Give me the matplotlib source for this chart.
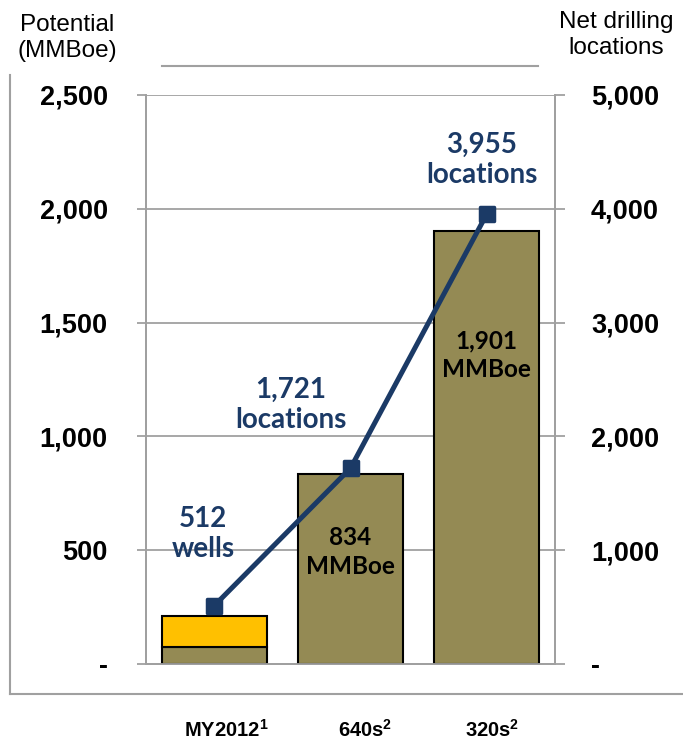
import numpy as np
import matplotlib.pyplot as plt
from matplotlib.lines import Line2D
from matplotlib.markers import MarkerStyle

plt.rcParams["mathtext.fontset"] = "custom"
plt.rcParams["mathtext.bf"] = "Liberation Sans:bold"
plt.rcParams["mathtext.rm"] = "Liberation Sans:bold"

# data
categories = ["MY2012", "640s", "320s"]
cat_notes = ["1", "2", "2"]
potential = [None, 834, 1901]          # MMBoe, labelled bars
my2012_base = 75                       # olive part of the MY2012 stack
my2012_top = 136                       # yellow part of the MY2012 stack
locations = [512, 1721, 3955]
loc_words = ["wells", "locations", "locations"]

olive = "#948A54"
gold = "#FFC000"
navy = "#1B3A66"
grey = "#A0A0A0"
arial = "Liberation Sans"
calibri = "Lato"

fig = plt.figure(figsize=(6.83, 7.41), dpi=100)
ax = fig.add_axes([0.2138, 0.1039, 0.5988, 0.7679])
ax2 = ax.twinx()

x = np.arange(len(categories))
w = 0.77

# bars
ax.bar(x[0], my2012_base, w, color=olive, edgecolor="black", linewidth=1.5, zorder=3)
ax.bar(x[0], my2012_top, w, bottom=my2012_base, color=gold, edgecolor="black",
       linewidth=1.5, zorder=3)
ax.bar(x[1:], potential[1:], w, color=olive, edgecolor="black", linewidth=1.5, zorder=3)

ax.set_xlim(-0.5, 2.5)
ax.set_ylim(0, 2500)
ax.set_yticks(np.arange(0, 2501, 500))
ax.set_yticklabels(["-"] + [f"{v:,}" for v in range(500, 2501, 500)])
ax.set_xticks([])
for v in range(500, 2501, 500):
    ax.axhline(v, color=grey, linewidth=1.3, zorder=1)

ax2.set_ylim(0, 5000)
ax2.set_yticks(np.arange(0, 5001, 1000))
ax2.set_yticklabels(["-"] + [f"{v:,}" for v in range(1000, 5001, 1000)])

for a in (ax, ax2):
    a.spines["top"].set_visible(False)
    for s in ("left", "right", "bottom"):
        a.spines[s].set_color(grey)
        a.spines[s].set_linewidth(1.3)
    for lab in a.get_yticklabels():
        lab.set_fontfamily(arial)
        lab.set_fontweight("bold")
        lab.set_fontsize(19.5)
ax.tick_params(axis="y", length=6.5, width=1.3, color=grey, pad=21)
ax2.tick_params(axis="y", length=7, width=1.3, color=grey, pad=19)

# locations line
ms = MarkerStyle("s", joinstyle="round")
ax2.plot(x, locations, color=navy, linewidth=3.6, marker=ms, markersize=10,
         markeredgewidth=2.5, markeredgecolor=navy, solid_capstyle="round", zorder=5)

# line labels
loc_pos = [(-0.08, 1140), (0.56, 2275), (1.965, 4430)]
for (px, py), n, word in zip(loc_pos, locations, loc_words):
    ax2.text(px, py, f"{n:,}\n{word}", ha="center", va="center", color=navy,
             fontfamily=calibri, fontweight="bold", fontsize=20, linespacing=1.2)

# bar labels
bar_pos = [(1, 492), (2, 1358)]
for (px, py), v in zip(bar_pos, potential[1:]):
    ax.text(px, py, f"{v:,}\nMMBoe", ha="center", va="center", color="black",
            fontfamily=calibri, fontweight="bold", fontsize=17.5, linespacing=1.3,
            zorder=6)

# axis titles
fig.text(0.098, 0.949, "Potential\n(MMBoe)", ha="center", va="center",
         fontfamily=arial, fontsize=17.5, linespacing=1.25)
fig.text(0.902, 0.953, "Net drilling\nlocations", ha="center", va="center",
         fontfamily=arial, fontsize=17.5, linespacing=1.25)

# category labels
for cx, name, note in zip([0.332, 0.534, 0.720], categories, cat_notes):
    fig.text(cx, 0.0148, name + r"$^{\mathbf{" + note + "}}$", ha="center", va="center",
             fontfamily=arial, fontweight="bold", fontsize=14.5)

# frame lines
fig.add_artist(Line2D([0.2372, 0.7877], [0.9109, 0.9109], color=grey, linewidth=1.5))
fig.add_artist(Line2D([0.0146, 0.0146], [0.8988, 0.0634], color=grey, linewidth=1.5))
fig.add_artist(Line2D([0.0146, 1.0], [0.0634, 0.0634], color=grey, linewidth=1.5))

fig.savefig("out.png", dpi=100)
